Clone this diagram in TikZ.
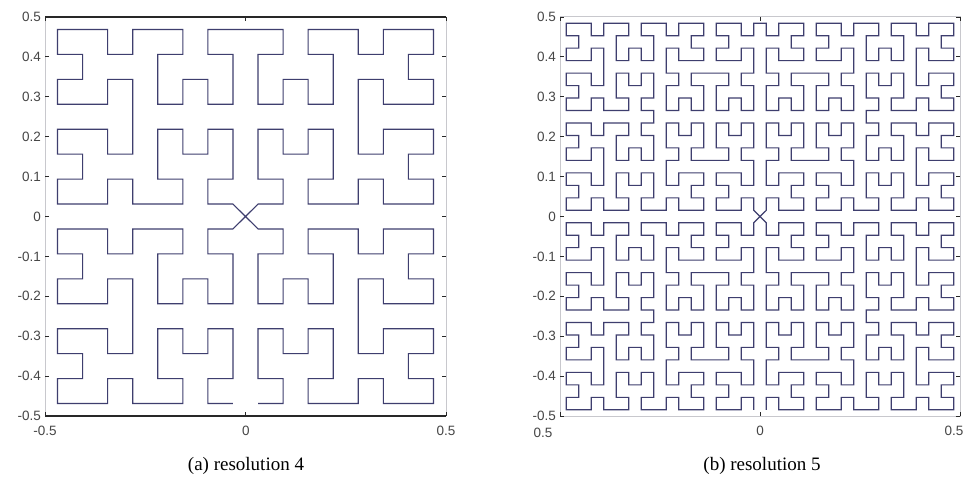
\documentclass[tikz,border=0pt]{standalone}
\usepackage{fontspec}
\setmainfont{Liberation Serif}
\newfontfamily\axfont{Liberation Sans}
\definecolor{curvecol}{RGB}{62,62,110}
\definecolor{lightax}{RGB}{200,200,205}
\definecolor{darkax}{RGB}{40,40,40}
\definecolor{labcol}{RGB}{70,70,70}
% ---- Hilbert turtle ----
\newcount\hx \newcount\hy \newcount\hdir \newcount\hsgn
\def\hMove{\pgfpathlineto{\pgfpointxy{\the\hx}{\the\hy}}}
\def\hF{\ifcase\hdir\global\advance\hx by 1 \or\global\advance\hy by 1 \or\global\advance\hx by -1 \or\global\advance\hy by -1 \fi\hMove}
\def\hTurn#1{\global\hdir=\numexpr\hdir+(#1)*\hsgn+4\relax
  \ifnum\hdir>3 \global\advance\hdir by -4 \fi
  \ifnum\hdir>3 \global\advance\hdir by -4 \fi}
\def\hP{\hTurn{1}}
\def\hM{\hTurn{-1}}
\def\hL#1{\ifnum#1>0 \expandafter\hLx\expandafter{\the\numexpr#1-1\relax}\fi}
\def\hLx#1{\hP\hR{#1}\hF\hM\hL{#1}\hF\hL{#1}\hM\hF\hR{#1}\hP}
\def\hR#1{\ifnum#1>0 \expandafter\hRx\expandafter{\the\numexpr#1-1\relax}\fi}
\def\hRx#1{\hM\hL{#1}\hF\hP\hR{#1}\hF\hR{#1}\hP\hF\hL{#1}\hM}
\def\hStart#1#2#3#4{\global\hx=#1 \global\hy=#2 \global\hdir=#3 \global\hsgn=#4 }
% #1 order of each quadrant, #2 half size, #3 full size
\newcommand\hilbertH[3]{%
 \hStart{\numexpr#2-1\relax}{0}{1}{1}\pgfpathmoveto{\pgfpointxy{\the\hx}{\the\hy}}\hL{#1}%
 \hStart{#2}{#2}{1}{-1}\hMove\hL{#1}%
 \hStart{\numexpr#2-1\relax}{\numexpr#3-1\relax}{3}{-1}\hMove\hL{#1}%
 \hStart{#2}{\numexpr#2-1\relax}{3}{1}\hMove\hL{#1}%
 \pgfusepath{stroke}}
\tikzset{
  hcurve/.style={color=curvecol, line width=1.1pt, line join=miter},
  lightaxis/.style={draw=lightax, line width=1pt},
  darkaxis/.style={draw=darkax, line width=1.4pt},
  tickmark/.style={draw=darkax, line width=0.9pt},
  ticklab/.style={font=\axfont\fontsize{13.5}{14}\selectfont, text=labcol, inner sep=0pt},
  captxt/.style={font=\fontsize{19}{22}\selectfont, inner sep=0pt},
}
\begin{document}
\begin{tikzpicture}[x=1pt,y=1pt]
\useasboundingbox (0,0) rectangle (966,488);
\fill[white] (0,0) rectangle (966,488);
% ---------- left plot (resolution 4) ----------
\draw[lightaxis] (45,72) -- (45,471) (446,72) -- (446,471);
\draw[darkaxis] (45,471) -- (446,471) (45,72) -- (446,72);
\foreach \k/\t in {0/-0.5,1/-0.4,2/-0.3,3/-0.2,4/-0.1,5/0,6/0.1,7/0.2,8/0.3,9/0.4,10/0.5}{
  \draw[tickmark] (45,72+\k*39.9) -- ++(4,0) (446,72+\k*39.9) -- ++(-4,0);
  \node[ticklab, anchor=east] (la\k) at (41,72+\k*39.9) {\t};
}
\foreach \xx in {45,245.5,446}{
  \draw[tickmark] (\xx,72) -- ++(0,4) (\xx,471) -- ++(0,-4);
}
\node[ticklab] (lxa) at (45,57) {-0.5};
\node[ticklab] (lxb) at (246,57) {0};
\node[ticklab] (lxc) at (446,57) {0.5};
\begin{scope}[xshift=57.53pt, yshift=84.47pt, x=25.0625pt, y=24.9375pt, hcurve]
  \hilbertH{3}{8}{16}
\end{scope}
% ---------- right plot (resolution 5) ----------
\draw[lightaxis] (560,72) rectangle (960,471);
\foreach \k/\t in {0/-0.5,1/-0.4,2/-0.3,3/-0.2,4/-0.1,5/0,6/0.1,7/0.2,8/0.3,9/0.4,10/0.5}{
  \draw[tickmark] (560,72+\k*39.9) -- ++(4,0) (960,72+\k*39.9) -- ++(-4,0);
  \node[ticklab, anchor=east] (ra\k) at (556,72+\k*39.9) {\t};
}
\foreach \xx in {560,760,960}{
  \draw[tickmark] (\xx,72) -- ++(0,4) (\xx,471) -- ++(0,-4);
}
\node[ticklab] (rxa) at (543,55) {0.5};
\node[ticklab] (rxb) at (760,57) {0};
\node[ticklab] (rxc) at (954,57) {0.5};
\begin{scope}[xshift=566.25pt, yshift=78.23pt, x=12.5pt, y=12.46875pt, hcurve]
  \hilbertH{4}{16}{32}
\end{scope}
% ---------- captions ----------
\node[captxt] (capa) at (246,22) {(a) resolution 4};
\node[captxt] (capb) at (762,22) {(b) resolution 5};
\end{tikzpicture}
\end{document}
